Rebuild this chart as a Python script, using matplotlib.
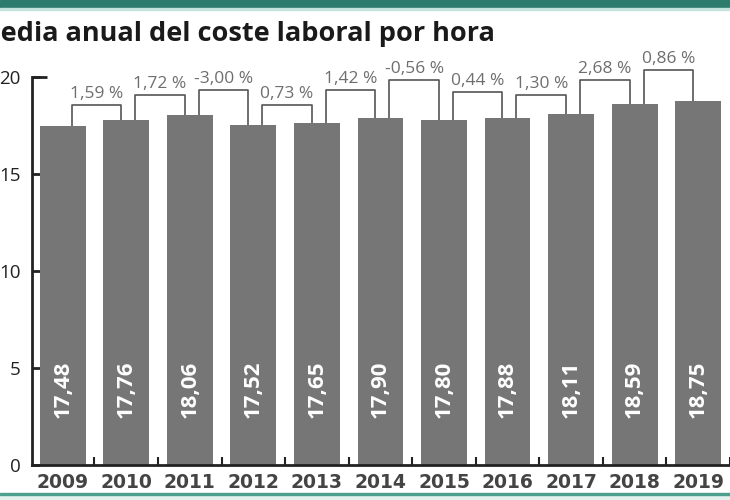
import matplotlib
matplotlib.use("Agg")
import matplotlib.pyplot as plt
from matplotlib.patches import Rectangle
import numpy as np

years = ["2009", "2010", "2011", "2012", "2013", "2014", "2015", "2016", "2017", "2018", "2019"]
coste = [17.48, 17.76, 18.06, 17.52, 17.65, 17.90, 17.80, 17.88, 18.11, 18.59, 18.75]
variacion = ["1,59 %", "1,72 %", "-3,00 %", "0,73 %", "1,42 %", "-0,56 %",
             "0,44 %", "1,30 %", "2,68 %", "0,86 %"]
# altura de cada corchete (en unidades del eje)
corchete = [18.55, 19.07, 19.33, 18.55, 19.33, 19.84, 19.22, 19.07, 19.84, 20.36]

W, H = 730, 500
fig = plt.figure(figsize=(W / 100, H / 100), dpi=100)

# bandas de color arriba y abajo
teal = "#2c7b6c"
fig.patches.append(Rectangle((0, 1 - 8 / H), 1, 8 / H, transform=fig.transFigure, color=teal, zorder=0))
fig.patches.append(Rectangle((0, 1 - 10 / H), 1, 2 / H, transform=fig.transFigure, color="#c4e3dd", zorder=0))
fig.patches.append(Rectangle((0, 0), 1, 5 / H, transform=fig.transFigure, color="#e3f2ef", zorder=0))
fig.patches.append(Rectangle((0, 5 / H), 1, 2 / H, transform=fig.transFigure, color="#4f9f8f", zorder=0))

ymax = 22
ax = fig.add_axes([32 / W, 35 / H, 698 / W, ymax * 19.4 / H])
x = np.arange(len(years))
ax.bar(x, coste, width=0.72, color="#767676", zorder=2)
ax.set_xlim(-0.483, 10.39)
ax.set_ylim(0, ymax)

for s in ["top", "right"]:
    ax.spines[s].set_visible(False)
ax.spines["left"].set_bounds(0, 20)
ax.spines["left"].set_linewidth(2)
ax.spines["bottom"].set_linewidth(2)
ax.spines["left"].set_color("#222222")
ax.spines["bottom"].set_color("#222222")

ax.set_yticks([0, 5, 10, 15, 20])
ax.set_yticklabels(["0", "5", "10", "15", "20"], family="Open Sans", fontsize=13.5, color="#222222")
ax.tick_params(axis="y", direction="in", length=6, width=2, color="#222222", pad=8)
ax.plot([-0.483, -0.25], [20, 20], color="#222222", lw=2, clip_on=False, zorder=3, solid_capstyle="butt")

ax.set_xticks(x)
ax.set_xticklabels(years, family="DejaVu Sans", fontweight="bold", fontsize=13.5, color="#444444")
ax.tick_params(axis="x", which="major", length=0, pad=6)
ax.set_xticks(list(x + 0.5), minor=True)
ax.tick_params(axis="x", which="minor", direction="in", length=6, width=1.5, color="#222222")

for i, v in enumerate(coste):
    ax.text(i, 3.9, f"{v:.2f}".replace(".", ","), rotation=90, ha="center", va="center",
            color="white", family="Open Sans", fontweight="bold", fontsize=16, zorder=4)

for i, lab in enumerate(variacion):
    x0 = i + 0.14
    x1 = i + 1 - 0.08
    top = corchete[i]
    ax.plot([x0, x0, x1, x1], [coste[i], top, top, coste[i + 1]], color="#555555", lw=1.2, zorder=1)
    ax.annotate(lab, (i + 0.53, top), xytext=(0, 2), textcoords="offset points",
                ha="center", va="bottom", color="#6e6e6e", family="Open Sans",
                fontsize=12.5)

# titulo (la "M" queda recortada por el borde)
titulo = "Media anual del coste laboral por hora"
r = fig.canvas.get_renderer()
t1 = fig.text(0, 0, titulo, family="Open Sans", fontweight="bold", fontsize=19.5)
t2 = fig.text(0, 0, titulo[1:], family="Open Sans", fontweight="bold", fontsize=19.5)
dx = t1.get_window_extent(r).width - t2.get_window_extent(r).width
t1.remove()
t2.remove()
fig.text((-dx + 1) / W, 1 - 41 / H, titulo, family="Open Sans", fontweight="bold",
         fontsize=19.5, color="#1a1a1a", va="baseline", ha="left")

fig.savefig("out.png", dpi=100)
